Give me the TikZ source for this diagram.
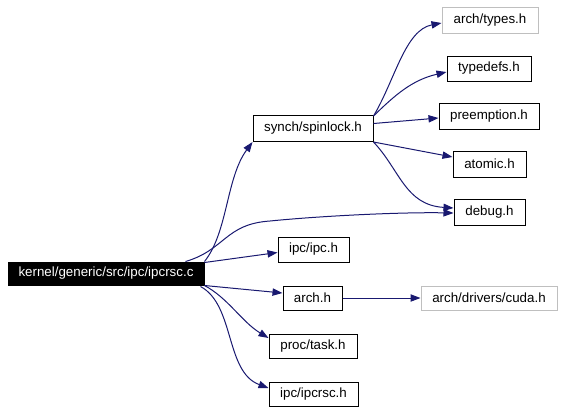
\documentclass[tikz,border=0pt]{standalone}
\usepackage{fontspec}
\setmainfont{Liberation Sans}
\usetikzlibrary{arrows.meta,calc}
\definecolor{edgeblue}{HTML}{191970}
\definecolor{extgray}{HTML}{BFBFBF}
\begin{document}
\begin{tikzpicture}[
    x=0.75pt, y=-0.75pt,
    every node/.style={font=\fontsize{10}{12}\selectfont, inner sep=0pt,
                       draw=black, line width=0.75pt, minimum height=19.5pt},
    ext/.style={draw=extgray},
    root/.style={fill=black, text=white, minimum height=17.25pt},
    dep/.style={-{Triangle[length=7.5pt,width=5.5pt]}, draw=edgeblue, line width=0.75pt}
  ]
  \useasboundingbox (0,0) rectangle (564,412);

  % ---- fichier source -------------------------------------------------
  \node[root, minimum width=147pt] (src) at (106,273.5) {kernel/generic/src/ipc/ipcrsc.c};

  % ---- en-tetes inclus directement -------------------------------------
  \node[minimum width=90pt]    (spin)   at (313,128.5) {synch/spinlock.h};
  \node[minimum width=53.25pt, minimum height=18.75pt] (ipc) at (313.5,249.5) {ipc/ipc.h};
  \node[minimum width=44.25pt, minimum height=18pt] (arch) at (312.5,298) {arch.h};
  \node[minimum width=66pt, minimum height=18pt] (task) at (313,346) {proc/task.h};
  \node[minimum width=66.75pt, minimum height=18pt] (ipcrsc) at (313.5,394) {ipc/ipcrsc.h};

  % ---- en-tetes de second niveau ---------------------------------------
  \node[ext, minimum width=72pt] (types) at (490,20)   {arch/types.h};
  \node[minimum width=63pt, minimum height=18.75pt] (tdef) at (489,68.5) {typedefs.h};
  \node[minimum width=75pt]    (pre)    at (489,116)   {preemption.h};
  \node[minimum width=54.75pt] (atom)   at (489.5,164) {atomic.h};
  \node[minimum width=53.25pt] (debug)  at (489.5,212) {debug.h};
  \node[ext, minimum width=102pt, minimum height=18pt] (cuda) at (489,298) {arch/drivers/cuda.h};

  % ---- liens depuis le fichier source ----------------------------------
  \draw[dep] (src.north east) .. controls (228,232) and (226,178) .. (spin.south west);
  \draw[dep] ($(src.north east)+(-19,0)$) .. controls (225,250) and (225,224) .. (270,221)
             .. controls (320,216) and (400,212) .. ($(debug.west)+(0,1)$);
  \draw[dep] ($(src.north east)+(0,1)$) -- ($(ipc.west)+(0,3)$);
  \draw[dep] (src.south east) -- ($(arch.west)+(0,-5)$);
  \draw[dep] (src.south east) .. controls (228,298) and (242,322) .. ($(task.west)+(0,-8)$);
  \draw[dep] ($(src.south east)+(-4,1)$) .. controls (235,305) and (225,372) .. ($(ipcrsc.west)+(0,-6)$);
  \draw[dep] (arch) -- (cuda);

  % ---- liens depuis synch/spinlock.h ----------------------------------
  \draw[dep] ($(spin.north east)+(0,1)$) .. controls (395,80) and (405,30) .. ($(types.west)+(0,3)$);
  \draw[dep] ($(spin.north east)+(0,1)$) .. controls (395,95) and (412,80) .. ($(tdef.west)+(0,3.5)$);
  \draw[dep] ($(spin.east)+(0,-5)$) -- ($(pre.west)+(0,2)$);
  \draw[dep] (spin.south east) -- ($(atom.west)+(0,-7)$);
  \draw[dep] (spin.south east) .. controls (400,170) and (405,205) .. ($(debug.west)+(0,-4)$);

\end{tikzpicture}
\end{document}
